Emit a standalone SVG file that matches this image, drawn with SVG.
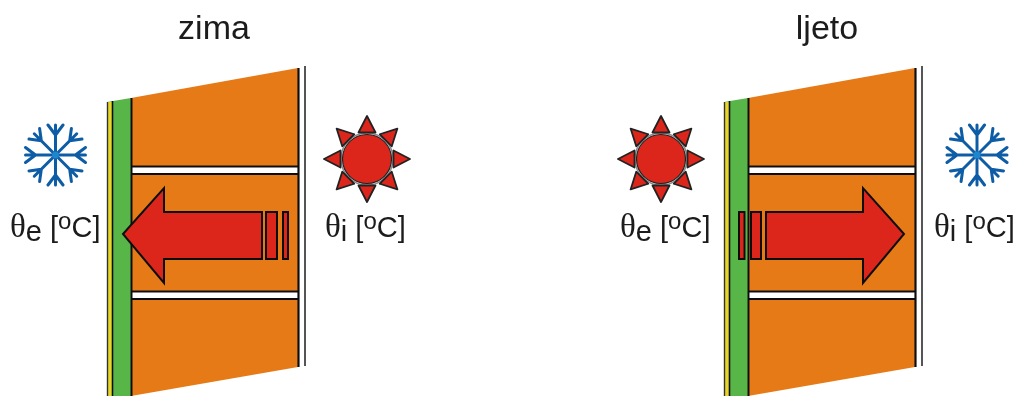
<svg xmlns="http://www.w3.org/2000/svg" width="1021" height="396" viewBox="0 0 1021 396">
<style>
text{font-family:"Liberation Sans",Arial,sans-serif;fill:#1a1a1a}
.title{font-size:34px;text-anchor:middle}
.lab{font-size:29px}
.th{font-family:"Liberation Serif","Times New Roman",serif;font-size:33px}
.k{stroke:#111;stroke-width:2;fill:none}
.w{fill:#e67a17}
.r{fill:#dc281e;stroke:#111;stroke-width:2}
.ray{fill:#dc281e;stroke:#222;stroke-width:1.8;stroke-linejoin:round}
.fl{stroke:#0f5ca6;stroke-width:3;fill:none;stroke-linecap:round;stroke-linejoin:round}
</style>
<defs>
<filter id="soft" x="0" y="0" width="100%" height="100%"><feGaussianBlur stdDeviation="0.45"/></filter>
<g id="arm"><path class="fl" d="M0 0V-30M0 -20L-7.5 -30M0 -20L7.5 -30"/></g>
<g id="flake">
<use href="#arm"/><use href="#arm" transform="rotate(45)"/><use href="#arm" transform="rotate(90)"/><use href="#arm" transform="rotate(135)"/><use href="#arm" transform="rotate(180)"/><use href="#arm" transform="rotate(225)"/><use href="#arm" transform="rotate(270)"/><use href="#arm" transform="rotate(315)"/>
<circle r="3.5" fill="#1f86cf"/>
</g>
<polygon id="ray" class="ray" points="-8.5,-26.5 8.5,-26.5 0,-43"/>
<g id="sun">
<circle r="26" fill="#fff" stroke="#888" stroke-width="1.4"/>
<circle r="24.5" fill="#dc281e" stroke="#222" stroke-width="1.2"/>
<use href="#ray"/><use href="#ray" transform="rotate(45)"/><use href="#ray" transform="rotate(90)"/><use href="#ray" transform="rotate(135)"/><use href="#ray" transform="rotate(180)"/><use href="#ray" transform="rotate(225)"/><use href="#ray" transform="rotate(270)"/><use href="#ray" transform="rotate(315)"/>
</g>
<g id="wall">
<polygon points="0,102 24,98 24,396 0,396" fill="#58b64a"/>
<polygon class="w" points="24,98 191,68 191,367 24,396"/>
<rect x="24" y="167" width="167" height="7" fill="#fff"/>
<rect x="24" y="292" width="167" height="7" fill="#fff"/>
<path class="k" d="M24 166.5H191M24 174H191M24 291.5H191M24 299H191"/>
<rect x="1" y="102" width="4" height="294" fill="#e8d52c"/>
<path d="M0.5 102V396" stroke="#333" stroke-width="1.4"/>
<path d="M5.5 101V396" stroke="#111" stroke-width="1.6"/>
<path d="M24.5 98V396" stroke="#111" stroke-width="2"/>
<path d="M191.5 68V367" stroke="#111" stroke-width="2.2"/>
<path d="M198 66V366" stroke="#555" stroke-width="2"/>
</g>
</defs>
<g filter="url(#soft)">
<text class="title" x="214" y="39">zima</text>
<text class="title" x="827" y="39">ljeto</text>
<g id="wall-zima"><use href="#wall" x="107"/></g>
<g id="wall-ljeto"><use href="#wall" x="724"/></g>
<g id="arrow-zima">
<polygon class="r" points="123,234 164,188 164,212 262,212 262,259 164,259 164,283"/>
<rect class="r" x="266" y="212" width="11" height="47"/>
<rect class="r" x="283" y="212" width="5" height="47"/>
</g>
<g id="arrow-ljeto">
<polygon class="r" points="904,234 863,188 863,212 766,212 766,259 863,259 863,283"/>
<rect class="r" x="751" y="212" width="10" height="47"/>
<rect class="r" x="739" y="212" width="5.5" height="47"/>
</g>
<g id="snow-zima"><use href="#flake" transform="translate(55.5,155)"/></g>
<g id="sun-zima"><use href="#sun" transform="translate(367,159)"/></g>
<g id="sun-ljeto"><use href="#sun" transform="translate(661,159)"/></g>
<g id="snow-ljeto"><use href="#flake" transform="translate(977,155)"/></g>
<g id="label-e-zima"><text class="lab" x="10" y="237"><tspan class="th">θ</tspan><tspan dy="4">e</tspan><tspan dy="-4"> [</tspan><tspan font-size="24" dy="-8">o</tspan><tspan dy="8">C]</tspan></text></g>
<g id="label-i-zima"><text class="lab" x="325" y="237"><tspan class="th">θ</tspan><tspan dy="4">i</tspan><tspan dy="-4"> [</tspan><tspan font-size="24" dy="-8">o</tspan><tspan dy="8">C]</tspan></text></g>
<g id="label-e-ljeto"><text class="lab" x="620" y="237"><tspan class="th">θ</tspan><tspan dy="4">e</tspan><tspan dy="-4"> [</tspan><tspan font-size="24" dy="-8">o</tspan><tspan dy="8">C]</tspan></text></g>
<g id="label-i-ljeto"><text class="lab" x="934" y="237"><tspan class="th">θ</tspan><tspan dy="4">i</tspan><tspan dy="-4"> [</tspan><tspan font-size="24" dy="-8">o</tspan><tspan dy="8">C]</tspan></text></g>
</g>
</svg>
